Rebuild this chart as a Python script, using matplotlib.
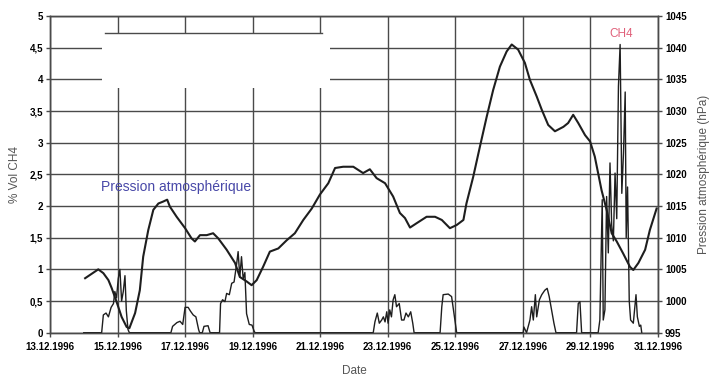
import numpy as np
import matplotlib
matplotlib.use("Agg")
import matplotlib.pyplot as plt
import matplotlib.dates as mdates
from matplotlib.ticker import FuncFormatter, MultipleLocator
from matplotlib.patches import Rectangle

plt.rcParams['font.family'] = ['Liberation Sans', 'DejaVu Sans']

# days elapsed since 13.12.1996 00:00
p_days = [1.04, 1.43, 1.58, 1.73, 1.83, 1.97, 2.12, 2.27, 2.35, 2.52, 2.66, 2.76,
          2.91, 3.06, 3.21, 3.35, 3.47, 3.55, 3.75, 4.00, 4.19, 4.29, 4.44, 4.64,
          4.83, 4.98, 5.23, 5.48, 5.62, 5.82, 5.97, 6.12, 6.31, 6.51, 6.76, 7.01,
          7.25, 7.50, 7.75, 7.99, 8.24, 8.44, 8.68, 8.98, 9.27, 9.47, 9.67, 9.92,
          10.16, 10.36, 10.51, 10.66, 10.86, 11.15, 11.40, 11.60, 11.84, 12.04,
          12.24, 12.33, 12.53, 12.73, 12.93, 13.12, 13.32, 13.52, 13.67, 13.86,
          14.06, 14.21, 14.41, 14.56, 14.75, 14.95, 15.20, 15.34, 15.49, 15.64,
          15.84, 15.99, 16.13, 16.33, 16.48, 16.63, 16.78, 16.97, 17.17, 17.27,
          17.42, 17.62, 17.76, 17.96]
# pression atmospherique (hPa)
pression = [1003.6, 1005.0, 1004.4, 1003.3, 1002.0, 999.9, 997.5, 995.9, 995.7,
            998.1, 1001.7, 1007.0, 1011.2, 1014.4, 1015.4, 1015.7, 1016.0, 1014.9,
            1013.3, 1011.5, 1009.9, 1009.4, 1010.4, 1010.4, 1010.7, 1009.9, 1008.1,
            1006.0, 1003.8, 1003.1, 1002.5, 1003.3, 1005.4, 1007.8, 1008.3, 1009.6,
            1010.7, 1012.8, 1014.6, 1016.8, 1018.6, 1021.0, 1021.2, 1021.2, 1020.2,
            1020.8, 1019.4, 1018.6, 1016.5, 1013.9, 1013.1, 1011.6, 1012.3, 1013.3,
            1013.3, 1012.8, 1011.5, 1012.0, 1012.8, 1015.4, 1019.6, 1024.4, 1029.1,
            1033.3, 1037.0, 1039.4, 1040.5, 1039.7, 1037.6, 1034.9, 1032.3, 1030.2,
            1027.8, 1026.8, 1027.5, 1028.1, 1029.4, 1028.1, 1026.2, 1025.2, 1022.8,
            1017.5, 1014.4, 1010.7, 1009.4, 1007.5, 1005.4, 1004.9, 1006.0, 1008.1,
            1011.2, 1014.6]

c_days = [1.00, 1.48, 1.53, 1.58, 1.66, 1.73, 1.81, 1.88, 1.92, 1.97, 2.02, 2.07,
          2.12, 2.17, 2.22, 2.26, 2.31, 2.35,
          3.58, 3.63, 3.76, 3.85, 3.93, 4.00, 4.09, 4.16, 4.24, 4.32, 4.40, 4.43,
          4.51, 4.56, 4.68, 4.74,
          5.02, 5.05, 5.11, 5.18, 5.23, 5.31, 5.38, 5.45, 5.53, 5.57, 5.62, 5.67,
          5.72, 5.77, 5.82, 5.90, 5.98, 6.04, 6.07,
          9.57, 9.62, 9.69, 9.75, 9.82, 9.87, 9.92, 9.97, 10.01, 10.06, 10.11,
          10.16, 10.21, 10.26, 10.34, 10.41, 10.48, 10.54, 10.61, 10.68, 10.74, 10.78,
          11.55, 11.60, 11.64, 11.79, 11.89, 11.99, 12.04,
          14.01, 14.03, 14.11, 14.21, 14.26, 14.31, 14.37, 14.41, 14.49, 14.56,
          14.65, 14.72, 14.78, 14.85, 14.92, 14.98,
          15.59, 15.64, 15.69, 15.74,
          16.23, 16.28, 16.35, 16.38, 16.43, 16.48, 16.53, 16.58, 16.63, 16.68,
          16.73, 16.78, 16.83, 16.88, 16.93, 16.98, 17.03, 17.06, 17.10, 17.15,
          17.19, 17.27, 17.35, 17.39, 17.45, 17.49, 17.52]
# % Vol CH4
ch4 = [0, 0, 0, 0.28, 0.31, 0.25, 0.40, 0.46, 0.65, 0.55, 0.85, 1.00,
       0.50, 0.65, 0.90, 0.35, 0.05, 0,
       0, 0.10, 0.16, 0.18, 0.13, 0.40, 0.40, 0.34, 0.28, 0.25, 0.05, 0,
       0, 0.10, 0.11, 0,
       0, 0.46, 0.52, 0.49, 0.62, 0.60, 0.78, 0.80, 1.10, 1.28, 0.88, 1.20,
       0.85, 0.95, 0.30, 0.13, 0.12, 0.03, 0,
       0, 0.17, 0.31, 0.15, 0.20, 0.25, 0.17, 0.33, 0.15, 0.36, 0.25,
       0.52, 0.60, 0.41, 0.46, 0.20, 0.20, 0.31, 0.25, 0.33, 0.15, 0,
       0, 0.41, 0.60, 0.61, 0.57, 0.19, 0,
       0, 0.09, 0, 0.20, 0.41, 0.20, 0.60, 0.25, 0.52, 0.60,
       0.67, 0.70, 0.57, 0.36, 0.15, 0,
       0, 0.46, 0.49, 0,
       0, 0.20, 2.10, 0.20, 0.36, 2.15, 1.26, 2.68, 1.70, 1.45,
       2.52, 1.80, 3.89, 4.55, 2.20, 2.84, 3.80, 1.50, 2.30, 0.50,
       0.20, 0.15, 0.60, 0.25, 0.10, 0.12, 0]

start = np.datetime64('1996-12-13T00:00')


def to_dates(days):
    minutes = np.round(np.array(days) * 24 * 60).astype('timedelta64[m]')
    return start + minutes


fig = plt.figure(figsize=(7.12, 3.8), dpi=100)
ax = fig.add_axes([0.0702, 0.1245, 0.8539, 0.8334])
ax2 = ax.twinx()

grid_col = '#4a4a4a'
ax.set_ylim(0, 5)
ax.set_xlim(start, np.datetime64('1996-12-31T00:00'))
ax.yaxis.set_major_locator(MultipleLocator(0.5))
ax.yaxis.set_major_formatter(FuncFormatter(lambda v, p: f'{v:g}'.replace('.', ',')))
ax.xaxis.set_major_locator(mdates.DayLocator(interval=2))
ax.xaxis.set_major_formatter(mdates.DateFormatter('%d.%m.%Y'))
ax.grid(True, color=grid_col, linewidth=1.0)
ax.set_axisbelow(True)

ax2.set_ylim(995, 1045)
ax2.yaxis.set_major_locator(MultipleLocator(5))

for a in (ax, ax2):
    for s in a.spines.values():
        s.set_color(grid_col)
        s.set_linewidth(1.0)
    a.tick_params(axis='both', labelsize=7, length=3, width=1, color=grid_col, pad=2)
    for lab in a.get_xticklabels() + a.get_yticklabels():
        lab.set_fontweight('bold')
ax.tick_params(axis='x', pad=4)

# blank box over the upper-left part of the grid
ax.add_patch(Rectangle((0.0855, 0.773), 0.375, 0.173, transform=ax.transAxes,
                       facecolor='white', edgecolor='none', zorder=1.5))
ax.plot([0.0905, 0.4474], [0.946, 0.946], transform=ax.transAxes,
        color=grid_col, linewidth=1.0, zorder=1.6)

ax.plot(to_dates(c_days), ch4, color='#1e1e1e', linewidth=1.0, zorder=3)
ax2.plot(to_dates(p_days), pression, color='#1e1e1e', linewidth=1.5, zorder=3)

ax.text(to_dates([3.73])[0], 2.30, 'Pression atmosphérique', color='#4848a8',
        fontsize=10, ha='center', va='center', zorder=4)
ax.text(to_dates([16.92])[0], 4.71, 'CH4', color='#e0607a', fontsize=8.5,
        ha='center', va='center', zorder=4)

ax.set_ylabel('% Vol CH4', fontsize=8.5, color='#555555', labelpad=6)
ax2.set_ylabel('Pression atmosphérique (hPa)', fontsize=8.5, color='#555555', labelpad=8)
ax.set_xlabel('Date', fontsize=8.5, color='#555555', labelpad=9)

fig.savefig('out.png', dpi=100)
